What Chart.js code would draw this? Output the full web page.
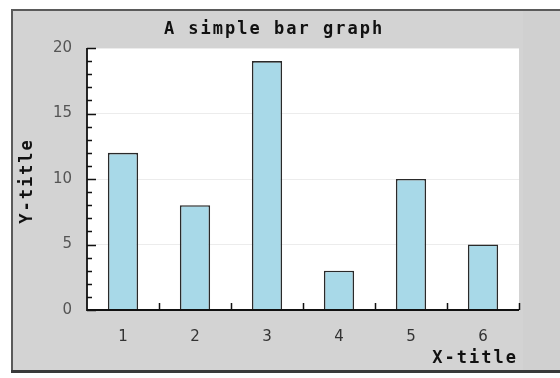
<!DOCTYPE html>
<html>
<head>
<meta charset="utf-8">
<script src="https://cdn.jsdelivr.net/npm/chart.js@4"></script>
<style>
html,body{margin:0;padding:0;background:#fff;}
#wrap{width:560px;height:378px;position:relative;}
</style>
</head>
<body>
<div id="wrap"><canvas id="c" width="560" height="378"></canvas></div>
<script>
const categories = ["1", "2", "3", "4", "5", "6"];
const values = [12, 8, 19, 3, 10, 5];
const yTicks = [0, 5, 10, 15, 20];
const chartTitle = "A simple bar graph";
const xTitle = "X-title";
const yTitle = "Y-title";

const mono = "'DejaVu Sans Mono', monospace";
const titleFont = "bold 17px " + mono;

const panelPlugin = {
  id: 'panel',
  beforeDraw(chart) {
    const ctx = chart.ctx;
    ctx.save();
    ctx.fillStyle = '#ffffff';
    ctx.fillRect(0, 0, 560, 378);
    ctx.fillStyle = '#d3d3d3';
    ctx.fillRect(11, 9, 549, 363);
    ctx.fillStyle = '#d0d0d0';
    ctx.fillRect(523, 11, 37, 359);
    ctx.fillStyle = '#5a5a5a';
    ctx.fillRect(11, 9, 549, 2);
    ctx.fillRect(11, 9, 2, 363);
    ctx.fillStyle = '#3a3a3a';
    ctx.fillRect(11, 370, 549, 3);
    const a = chart.chartArea;
    ctx.fillStyle = '#ffffff';
    ctx.fillRect(a.left, a.top, a.right - a.left, a.bottom - a.top);
    ctx.restore();
  },
  afterDatasetsDraw(chart) {
    const ctx = chart.ctx;
    const y = chart.scales.y, x = chart.scales.x;
    const a = chart.chartArea;
    ctx.save();
    ctx.strokeStyle = '#111';
    ctx.lineWidth = 1.5;
    ctx.beginPath();
    for (let v = y.min; v <= y.max; v++) {
      const py = Math.round(y.getPixelForValue(v)) + 0.5;
      const len = (yTicks.includes(v)) ? 9 : 5;
      ctx.moveTo(a.left, py);
      ctx.lineTo(a.left + len, py);
    }
    const half = (x.getPixelForValue(1) - x.getPixelForValue(0)) / 2;
    for (let i = 0; i < categories.length; i++) {
      const px = Math.round(x.getPixelForValue(i) + half) + 0.5;
      ctx.moveTo(px, a.bottom);
      ctx.lineTo(px, a.bottom - 7);
    }
    ctx.stroke();
    ctx.lineWidth = 1.8;
    ctx.beginPath();
    ctx.moveTo(a.left, a.top);
    ctx.lineTo(a.left, a.bottom);
    ctx.lineTo(a.right, a.bottom);
    ctx.stroke();
    ctx.restore();
  },
  afterDraw(chart) {
    const ctx = chart.ctx;
    ctx.save();
    ctx.font = titleFont;
    ctx.fillStyle = '#111';
    ctx.letterSpacing = '2px';
    ctx.textBaseline = 'middle';
    ctx.textAlign = 'left';
    let w = ctx.measureText(chartTitle).width - 2;
    ctx.fillText(chartTitle, 273 - w / 2, 30);
    w = ctx.measureText(xTitle).width - 2;
    ctx.fillText(xTitle, 516 - w, 359);
    w = ctx.measureText(yTitle).width - 2;
    ctx.translate(28, 182);
    ctx.rotate(-Math.PI / 2);
    ctx.fillText(yTitle, -w / 2, 0);
    ctx.restore();
  }
};

new Chart(document.getElementById('c'), {
  type: 'bar',
  data: {
    labels: categories,
    datasets: [{
      data: values,
      backgroundColor: '#a8d9e8',
      borderColor: '#2a2a2a',
      borderWidth: 1.6,
      barPercentage: 0.42,
      categoryPercentage: 1.0
    }]
  },
  options: {
    responsive: false,
    animation: false,
    devicePixelRatio: 1,
    layout: { padding: { left: 0, right: 41, top: 48, bottom: 0 } },
    plugins: {
      legend: { display: false },
      tooltip: { enabled: false },
      title: { display: false }
    },
    scales: {
      x: {
        grid: { display: false, drawTicks: false },
        border: { display: false },
        ticks: { color: '#333', font: { family: "'DejaVu Sans'", size: 15 }, padding: 18 },
        afterFit(s) { s.height = 68; }
      },
      y: {
        min: 0, max: 20,
        grid: { color: '#ececec', drawTicks: false },
        border: { display: false },
        ticks: {
          stepSize: 5,
          color: '#555',
          font: { family: "'DejaVu Sans'", size: 15 },
          padding: 15,
          callback: (v) => yTicks.includes(v) ? String(v) : ''
        },
        afterFit(s) { s.width = 87; }
      }
    }
  },
  plugins: [panelPlugin]
});
</script>
</body>
</html>
